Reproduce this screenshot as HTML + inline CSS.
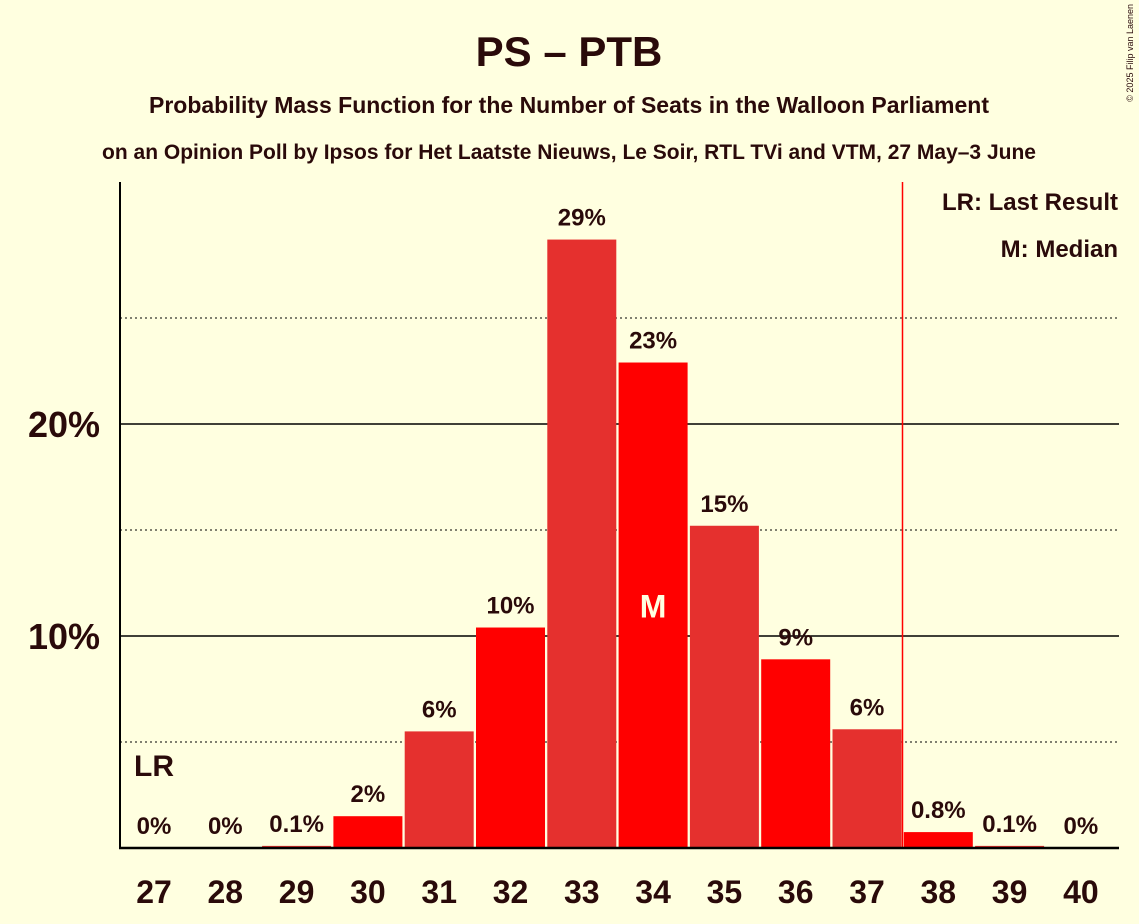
<!DOCTYPE html>
<html><head><meta charset="utf-8"><style>
body{margin:0;background:#ffffe0;}
svg{display:block;font-family:"Liberation Sans",sans-serif;}
</style></head><body>
<svg id="c" width="1139" height="924">
<rect width="1139" height="924" fill="#ffffe0"/>
<text x="569" y="66" text-anchor="middle" font-size="42" font-weight="bold" fill="#2a0a0a">PS – PTB</text>
<text x="569" y="113" text-anchor="middle" font-size="23" font-weight="bold" fill="#2a0a0a">Probability Mass Function for the Number of Seats in the Walloon Parliament</text>
<text x="569" y="159" text-anchor="middle" font-size="21" font-weight="bold" fill="#2a0a0a">on an Opinion Poll by Ipsos for Het Laatste Nieuws, Le Soir, RTL TVi and VTM, 27 May–3 June</text>
<text x="1133" y="4" transform="rotate(-90 1133 4)" text-anchor="end" font-size="9" fill="#2a0a0a">© 2025 Filip van Laenen</text>
<g id="grid"></g><g id="bars"></g><g id="labels"></g>
<line x1="120" y1="182" x2="120" y2="848" stroke="#000" stroke-width="2"/>
<line x1="119" y1="848" x2="1119" y2="848" stroke="#000" stroke-width="2.5"/>
<text x="1118" y="210" text-anchor="end" font-size="24" font-weight="bold" fill="#2a0a0a">LR: Last Result</text>
<text x="1118" y="257" text-anchor="end" font-size="24" font-weight="bold" fill="#2a0a0a">M: Median</text>
</svg>
<script>
const seats=[27,28,29,30,31,32,33,34,35,36,37,38,39,40];
const probs=[0,0,0.1,1.5,5.5,10.4,28.7,22.9,15.2,8.9,5.6,0.75,0.1,0];
const valueLabels=["0%","0%","0.1%","2%","6%","10%","29%","23%","15%","9%","6%","0.8%","0.1%","0%"];
const yTicks=[10,20];
const yDotted=[5,15,25];
const lastResult=27.5+10.5; // LR seat boundary between 37 and 38
const lrSeat=27;
const medianSeat=34;
const NS="http://www.w3.org/2000/svg";
const y=v=>848-v*21.2;
const x=s=>154+(s-27)*71.3;
function mk(t,a,p){const e=document.createElementNS(NS,t);for(const k in a)e.setAttribute(k,a[k]);p.appendChild(e);return e;}
const grid=document.getElementById('grid'),bars=document.getElementById('bars'),labels=document.getElementById('labels');
yDotted.forEach(v=>{const l=mk('line',{x1:120,x2:1119,y1:y(v),y2:y(v),stroke:'#000','stroke-dasharray':'2,3','stroke-width':1},grid);

});
yTicks.forEach(v=>{const l=mk('line',{x1:120,x2:1119,y1:y(v),y2:y(v),stroke:'#000','stroke-width':1.5},grid);


const t=mk('text',{x:100,y:y(v)+13,'text-anchor':'end','font-size':36,'font-weight':'bold',fill:'#2a0a0a'},grid);t.textContent=v+'%';

});
seats.forEach((s,i)=>{const v=probs[i];
if(v>0){const r=mk('rect',{x:x(s)-34.5,y:y(v),width:69,height:848-y(v),fill:s%2?'#e5302e':'#ff0000'},bars);

}
const t=mk('text',{x:x(s),y:y(v)-14,'text-anchor':'middle','font-size':24,'font-weight':'bold',fill:'#2a0a0a'},labels);t.textContent=valueLabels[i];


const xt=mk('text',{x:x(s),y:903,'text-anchor':'middle','font-size':32,'font-weight':'bold',fill:'#2a0a0a'},labels);xt.textContent=s;

});
const lx=x(37)+35.5;
const lr=mk('line',{x1:lx,x2:lx,y1:182,y2:848,stroke:'#ff0000','stroke-width':1.5},labels);


const lt=mk('text',{x:x(lrSeat),y:776,'text-anchor':'middle','font-size':30,'font-weight':'bold',fill:'#2a0a0a'},labels);lt.textContent='LR';


const mi=seats.indexOf(medianSeat);
const m=mk('text',{x:x(medianSeat),y:y(probs[mi]/2)+12,'text-anchor':'middle','font-size':32,'font-weight':'bold',fill:'#ffffe0'},labels);m.textContent='M';


</script>
</body></html>
